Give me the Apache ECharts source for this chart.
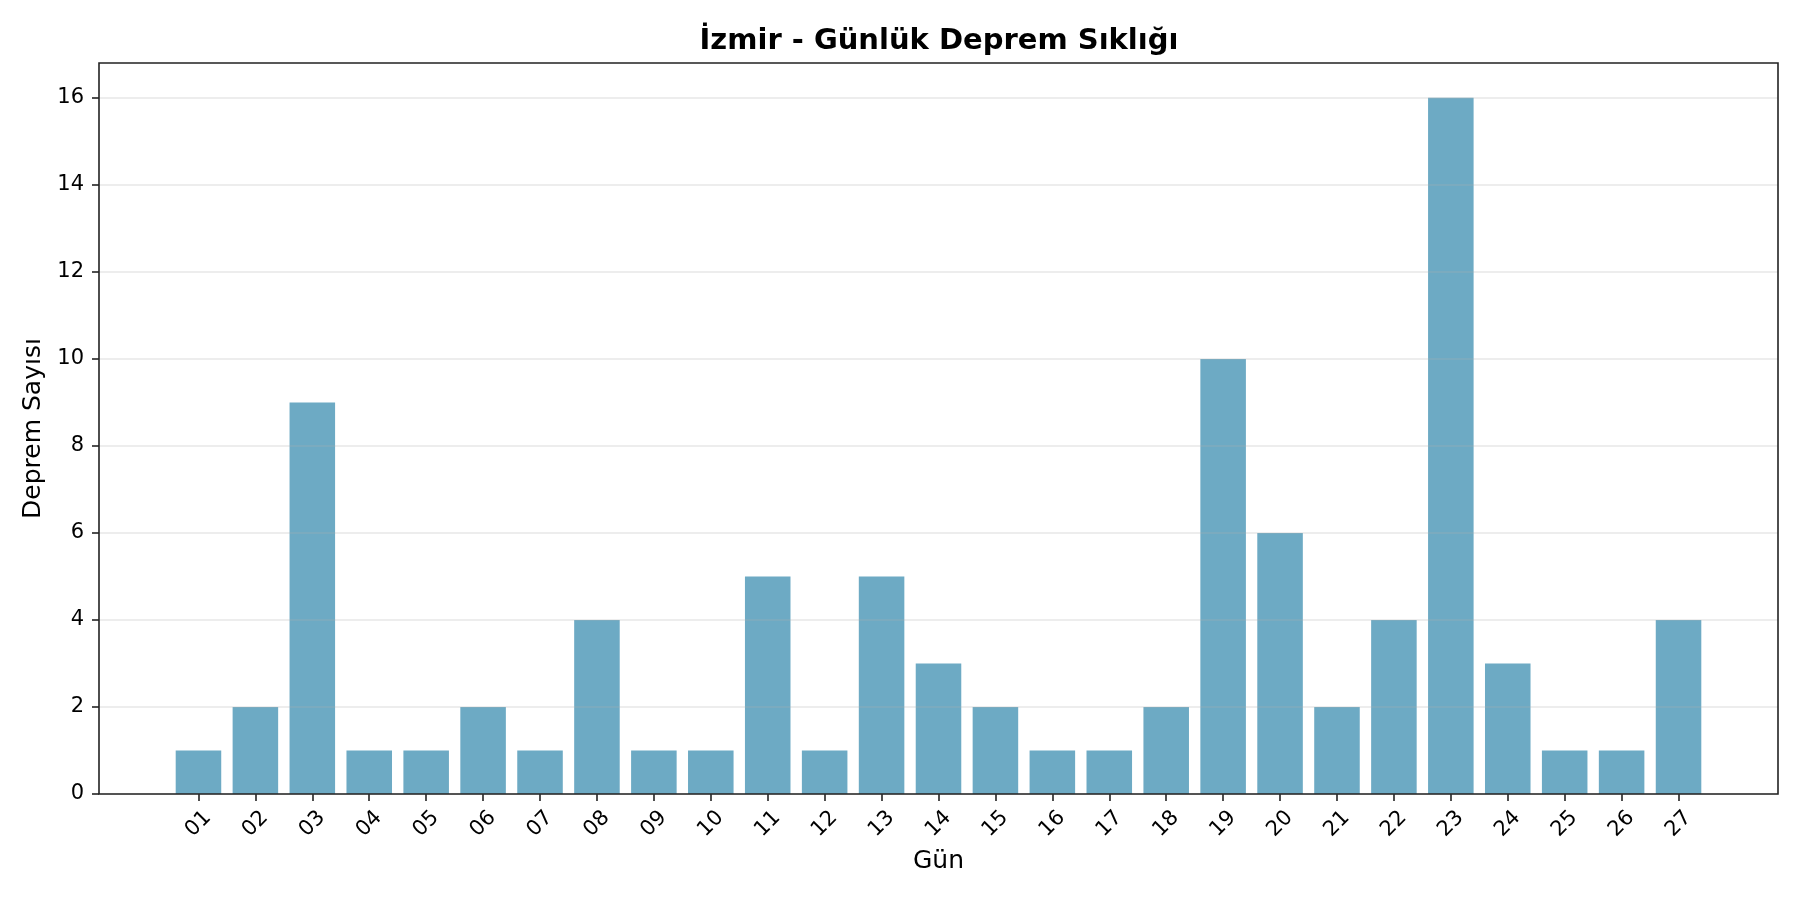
<!DOCTYPE html>
<html>
<head>
<meta charset="utf-8">
<script src="https://cdn.jsdelivr.net/npm/echarts@6/dist/echarts.min.js"></script>
<style>
html,body{margin:0;padding:0;background:#fff;}
#chart{width:1800px;height:900px;}
</style>
</head>
<body>
<div id="chart"></div>
<script>
const days = ['01','02','03','04','05','06','07','08','09','10','11','12','13','14','15','16','17','18','19','20','21','22','23','24','25','26','27'];
const counts = [1,2,9,1,1,2,1,4,1,1,5,1,5,3,2,1,1,2,10,6,2,4,16,3,1,1,4];
const yTicks = [0,2,4,6,8,10,12,14,16];
const titleText = 'İzmir - Günlük Deprem Sıklığı';
const xName = 'Gün';
const yName = 'Deprem Sayısı';

const font = 'DejaVu Sans';
const chart = echarts.init(document.getElementById('chart'));
chart.setOption({
  animation: false,
  backgroundColor: '#fff',
  textStyle: { fontFamily: font },
  title: {
    text: titleText,
    left: 934, top: 22, textAlign: 'center',
    textStyle: { fontFamily: font, fontSize: 29, fontWeight: 'bold', color: '#000' }
  },
  grid: [
    { left: 99, right: 22, top: 63, bottom: 106, show: true, borderColor: '#222', borderWidth: 1.6, backgroundColor: 'transparent', z: 4 },
    { left: 170, right: 93, top: 63, bottom: 106 }
  ],
  xAxis: [
    { gridIndex: 0, type: 'value', min: 0, max: 1, show: false },
    {
      gridIndex: 1, type: 'category', data: days, boundaryGap: true,
      name: xName, nameLocation: 'middle', nameGap: 55,
      nameTextStyle: { fontFamily: font, fontSize: 25, color: '#000' },
      axisLine: { show: false },
      axisTick: { show: true, alignWithLabel: true, interval: 0, length: 7, lineStyle: { color: '#222', width: 1.6 } },
      axisLabel: { interval: 0, rotate: 45, align: 'center', verticalAlign: 'middle', margin: 30, fontFamily: font, fontSize: 21, color: '#000' },
      splitLine: { show: false }
    }
  ],
  yAxis: [
    {
      gridIndex: 0, type: 'value', min: 0, max: 16.8, interval: 2, z: 3,
      name: yName, nameLocation: 'middle', nameGap: 47, nameRotate: 90,
      nameTextStyle: { fontFamily: font, fontSize: 25, color: '#000' },
      axisLine: { show: false },
      axisTick: { show: true, length: 7, customValues: yTicks, lineStyle: { color: '#222', width: 1.6 } },
      axisLabel: { margin: 15, customValues: yTicks, fontFamily: font, fontSize: 21, color: '#000' },
      splitLine: { show: true, lineStyle: { color: 'rgba(176,176,176,0.3)', width: 1.6 } }
    },
    { gridIndex: 1, type: 'value', min: 0, max: 16.8, show: false }
  ],
  series: [
    {
      type: 'bar', xAxisIndex: 1, yAxisIndex: 1, data: counts,
      barWidth: '80%', itemStyle: { color: '#6DAAC4' }, z: 2
    }
  ]
});
</script>
</body>
</html>
